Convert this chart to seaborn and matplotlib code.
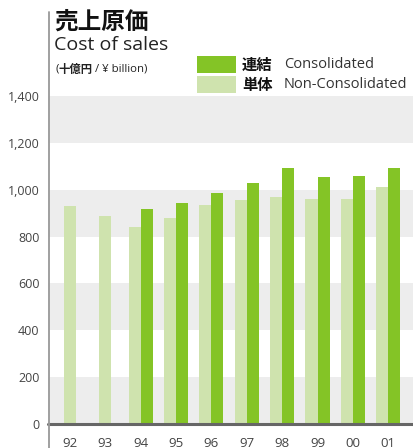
import numpy as np
import pandas as pd
import matplotlib
matplotlib.use("Agg")
import matplotlib.pyplot as plt
from matplotlib.lines import Line2D
from matplotlib.patches import Rectangle
import seaborn as sns

years = ['92', '93', '94', '95', '96', '97', '98', '99', '00', '01']
consolidated = [np.nan, np.nan, 918, 943, 986, 1029, 1093, 1054, 1058, 1093]
non_consolidated = [930, 888, 841, 879, 935, 956, 969, 960, 960, 1011]
y_ticks = [0, 200, 400, 600, 800, 1000, 1200, 1400]
y_tick_labels = ['0', '200', '400', '600', '800', '1,000', '1,200', '1,400']

DARK = '#84C426'
LIGHT = '#CFE3AE'
BAND = '#EDEDED'

sns.set_theme(style='white')
plt.rcParams['font.family'] = ['Open Sans', 'Noto Sans CJK JP', 'DejaVu Sans']

df = pd.DataFrame({
    'year': years * 2,
    'value': non_consolidated + consolidated,
    'kind': ['単体'] * len(years) + ['連結'] * len(years),
})

W, H = 413, 448
fig = plt.figure(figsize=(W / 100, H / 100), dpi=100)
ax = fig.add_axes([48 / W, (H - 424) / H, (W - 48) / W, (424 - 12) / H])

ymax = (424 - 12) / (328 / 1400)
for lo in (0, 400, 800, 1200):
    ax.axhspan(lo, lo + 200, color=BAND, lw=0, zorder=0)

width = 0.68
sns.barplot(data=df, x='year', y='value', hue='kind', hue_order=['単体', '連結'],
            order=years, palette=[LIGHT, DARK], width=width, dodge=True,
            errorbar=None, legend=False, ax=ax, saturation=1, zorder=2,
            linewidth=0)

# center single bars where no consolidated value exists
light_bars = ax.containers[0]
for patch, c in zip(light_bars.patches, consolidated):
    if np.isnan(c):
        patch.set_x(patch.get_x() + patch.get_width() / 2)

ax.set_xlim(-0.62, 9.7)
ax.set_ylim(0, ymax)
ax.set_yticks(y_ticks)
ax.set_yticklabels(y_tick_labels)
ax.set_xlabel('')
ax.set_ylabel('')
for s in ax.spines.values():
    s.set_visible(False)
ax.tick_params(axis='both', length=0, colors='#444444')
ax.tick_params(axis='x', pad=9, labelsize=9.5)
ax.tick_params(axis='y', pad=6, labelsize=9)
ax.axhline(0, color='#666666', lw=2.2, zorder=3, clip_on=False)

# left vertical rule across the full height
fig.add_artist(Line2D([48.5 / W, 48.5 / W], [0, 1 - 12 / H], color='#999999', lw=1.3))

def fy(py):
    return 1 - py / H

fig.text(54 / W, fy(22), '売上原価', fontsize=17, fontweight='bold',
         family=['Noto Sans CJK JP'], va='center', ha='left', color='#111111')
fig.text(54 / W, fy(45), 'Cost of sales', fontsize=14,
         va='center', ha='left', color='#222222')

# unit line built from consecutive pieces
renderer = fig.canvas.get_renderer()
x = 55
for txt, kw in [('(', {}),
                ('十億円', {'fontweight': 'bold', 'family': ['Noto Sans CJK JP']}),
                (' / ¥ billion)', {})]:
    t = fig.text(x / W, fy(69), txt, fontsize=8.2, va='center', ha='left', color='#222222', **kw)
    x += t.get_window_extent(renderer).width

# legend
fig.add_artist(Rectangle((197 / W, fy(73)), 39 / W, 17 / H, transform=fig.transFigure,
                         facecolor=DARK, lw=0))
fig.add_artist(Rectangle((197 / W, fy(93)), 39 / W, 17 / H, transform=fig.transFigure,
                         facecolor=LIGHT, lw=0))
fig.text(242 / W, fy(65), '連結', fontsize=11, fontweight='bold',
         family=['Noto Sans CJK JP'], va='center', ha='left', color='#111111')
fig.text(284 / W, fy(65), 'Consolidated', fontsize=10.5, va='center', ha='left', color='#333333')
fig.text(242 / W, fy(85), '単体', fontsize=11, fontweight='bold',
         family=['Noto Sans CJK JP'], va='center', ha='left', color='#111111')
fig.text(284 / W, fy(85), 'Non-Consolidated', fontsize=10.5, va='center', ha='left', color='#333333')

fig.savefig('out.png', dpi=100)
